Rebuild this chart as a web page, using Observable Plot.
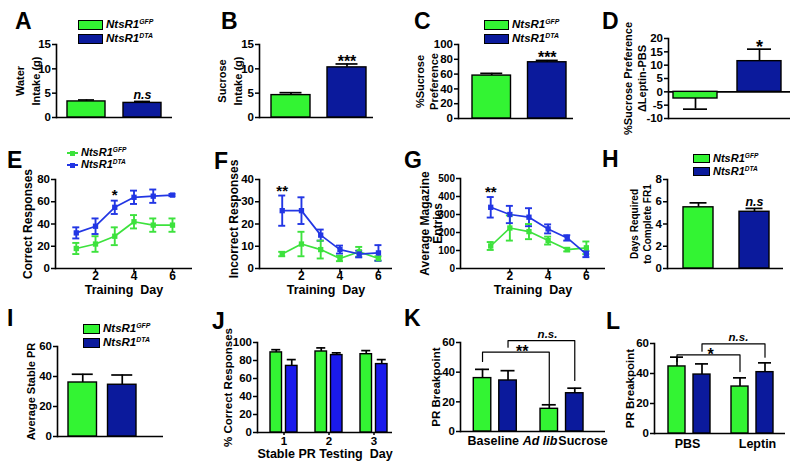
<!DOCTYPE html>
<html>
<head>
<meta charset="utf-8">
<script src="https://cdn.jsdelivr.net/npm/d3@7"></script>
<script src="https://cdn.jsdelivr.net/npm/@observablehq/plot@0.6"></script>
<style>
html,body{margin:0;padding:0;background:#fff;}
#fig{position:relative;width:800px;height:468px;overflow:hidden;background:#fff;font-family:"Liberation Sans",Arial,sans-serif;color:#000;}
#fig svg{position:absolute;max-width:none;}
.letter{position:absolute;font-size:23px;font-weight:bold;line-height:1;}
.leg{position:absolute;display:flex;align-items:center;font-weight:bold;font-style:italic;white-space:nowrap;line-height:1;}
.leg .sw{display:inline-block;box-sizing:border-box;border:1.5px solid #000;margin-right:3px;}
.leg .ln{display:inline-block;position:relative;height:2px;margin-right:3px;}
.leg .ln i{position:absolute;left:50%;top:50%;width:5px;height:5px;margin:-2.5px 0 0 -2.5px;}
.leg .tx{line-height:0.85;}
.leg sup{font-size:0.6em;vertical-align:0.55em;line-height:0;}
</style>
</head>
<body>
<div id="fig"></div>
<script>
// ---------------- data ----------------
const genotypeKeys = ["GFP", "DTA"];
const legendBase = ["NtsR1", "NtsR1"];
const panelLetters = ["A","B","C","D","E","F","G","H","I","J","K","L"];

// A water intake (g)
const waterIntake = [3.3, 3.0];
const waterIntakeSem = [0.3, 0.3];
const waterIntakeSig = ["", "n.s"];
// B sucrose intake (g)
const sucroseIntake = [4.6, 10.3];
const sucroseIntakeSem = [0.5, 0.7];
const sucroseIntakeSig = ["", "***"];
// C % sucrose preference
const sucrosePref = [58, 76];
const sucrosePrefSem = [3, 2.5];
const sucrosePrefSig = ["", "***"];
// D delta leptin-PBS
const leptinDelta = [-2.5, 11.5];
const leptinDeltaSem = [4, 4.5];
const leptinDeltaSig = ["", "*"];
// E-G training days
const trainingDays = [1, 2, 3, 4, 5, 6];
const correctGFP = [18, 22, 29, 42, 39, 39];
const correctGFPSem = [5, 7, 8, 6, 6, 6];
const correctDTA = [32, 38, 55, 64, 65, 66];
const correctDTASem = [5, 7, 6, 6, 6, 1];
const correctSig = ["", "", "*", "", "", ""];
const incorrectGFP = [6.5, 11, 8.5, 4.5, 7.5, 4.5];
const incorrectGFPSem = [1, 5.5, 4, 1.2, 2.2, 1];
const incorrectDTA = [26, 26, 15, 8.5, 6.5, 7];
const incorrectDTASem = [6.8, 6, 2.5, 1.8, 1.5, 3.5];
const incorrectSig = ["**", "", "", "", "", ""];
const magazineGFP = [125, 225, 205, 155, 105, 115];
const magazineGFPSem = [22, 70, 42, 22, 10, 35];
const magazineDTA = [340, 300, 285, 220, 170, 80];
const magazineDTASem = [57, 48, 50, 25, 15, 17];
const magazineSig = ["**", "", "", "", "", ""];
// H days to complete FR1
const fr1Days = [5.5, 5.1];
const fr1DaysSem = [0.4, 0.3];
const fr1Sig = ["", "n.s"];
// I average stable PR
const stablePR = [36, 34.5];
const stablePRSem = [5.5, 6.5];
const stablePRSig = ["", ""];
// J % correct responses by stable PR day
const prDays = ["1", "2", "3"];
const pctCorrectGFP = [89, 90, 87];
const pctCorrectGFPSem = [3, 4, 4];
const pctCorrectDTA = [74, 86, 76];
const pctCorrectDTASem = [7, 2.5, 5];
// K PR breakpoint baseline vs ad lib sucrose
const kConditions = ["Baseline", "Ad lib Sucrose"];
const kGFP = [36, 15.3];
const kGFPSem = [5.9, 2.7];
const kDTA = [34.4, 25.8];
const kDTASem = [6.6, 3.4];
const kBracketGFPcat = ["Baseline", "Baseline", "Ad lib Sucrose", "Ad lib Sucrose"];
const kBracketGFPy = [47.2, 53.5, 53.5, 18.7];
const kBracketDTAcat = ["Baseline", "Baseline", "Ad lib Sucrose", "Ad lib Sucrose"];
const kBracketDTAy = [56.8, 61.3, 61.3, 34.4];
const kSigLabels = ["**", "n.s."];
const kCatLabelParts = [["Baseline"], ["Ad lib", "Sucrose"]];
// L PR breakpoint PBS vs leptin
const lConditions = ["PBS", "Leptin"];
const lGFP = [44.7, 31.3];
const lGFPSem = [6.2, 5.8];
const lDTA = [39.3, 40.9];
const lDTASem = [7.1, 6.2];
const lBracketGFPcat = ["PBS", "PBS", "Leptin", "Leptin"];
const lBracketGFPy = [48, 52.4, 52.4, 41.3];
const lBracketDTAcat = ["PBS", "PBS", "Leptin", "Leptin"];
const lBracketDTAy = [54.9, 59.8, 59.8, 50.9];
const lSigLabels = ["*", "n.s."];

// ---------------- styles ----------------
const COL = {green: "#33F433", navy: "#0B1A9C", blueJ: "#1A1AEB", lgreen: "#3DE23D", lblue: "#2236E4"};
const FONT = '"Liberation Sans", Arial, sans-serif';
const fig = document.getElementById("fig");

function frameOpts(p) {
  return {
    width: p.w, height: p.h,
    marginLeft: p.x0 - p.left, marginRight: p.left + p.w - p.x1,
    marginTop: p.y0 - p.top, marginBottom: p.top + p.h - p.y1,
    style: {background: "transparent", overflow: "visible", fontFamily: FONT, fontSize: "11.5px", fontWeight: "bold", color: "#000"}
  };
}
function place(el, p) {
  el.style.position = "absolute";
  el.style.left = p.left + "px";
  el.style.top = p.top + "px";
  fig.appendChild(el);
}
function yAxisMarks(p) {
  const lines = p.ylabel;
  const sp = p.ylabelSpacing || 15;
  return [
    Plot.axisY({ticks: p.yTicks, tickSize: 4, tickPadding: 1.5, tickFormat: d => String(d), label: null, strokeWidth: 1.5, fontSize: p.tickFont || 11.5}),
    Plot.frame({anchor: "left", strokeWidth: 1.6}),
    ...lines.map((t, i) => Plot.text([t], {frameAnchor: "left", textAnchor: "middle", lineAnchor: "middle",
      dx: p.ylabelDx + (i - (lines.length - 1) / 2) * sp, dy: p.ylabelDy || 0, rotate: -90,
      fontSize: p.ylabelSize || 12, fontWeight: "bold"}))
  ];
}

// ---------- two-bar panels ----------
function twoBarPanel(p) {
  const rows = genotypeKeys.map((g, i) => ({
    g, mean: p.values[i], sem: p.sems[i], sig: p.sig[i],
    end: p.values[i] < 0 ? p.values[i] - p.sems[i] : p.values[i] + p.sems[i]
  }));
  const gap = (p.barR - p.barL) - 2 * p.barW;
  const ci = (p.barW - p.capW) / 2;
  const plot = Plot.plot({
    ...frameOpts(p),
    x: {type: "band", domain: genotypeKeys, range: [p.barL - p.left, p.barR - p.left], paddingInner: gap / (p.barW + gap), paddingOuter: 0, round: false, axis: null},
    y: {domain: p.yDomain},
    color: {domain: genotypeKeys, range: [COL.green, COL.navy]},
    marks: [
      ...(p.baseLines || [p.yDomain[0]]).map(v => Plot.ruleY([v], {stroke: "#000", strokeWidth: 1.6})),
      Plot.ruleX(rows, {x: "g", y1: "mean", y2: "end", stroke: "#000", strokeWidth: 1.7}),
      Plot.tickY(rows, {x: "g", y: "end", stroke: "#000", strokeWidth: 1.7, insetLeft: ci, insetRight: ci}),
      Plot.barY(rows, {x: "g", y: "mean", fill: "g", stroke: "#000", strokeWidth: 1.4}),
      Plot.text(rows, {x: "g", y: "end", text: "sig", dy: p.sigDy, fontSize: p.sigSize, fontWeight: "bold", fontStyle: p.sigItalic ? "italic" : "normal"}),
      ...yAxisMarks(p)
    ]
  });
  place(plot, p);
}

// ---------- line panels ----------
function linePanel(p) {
  const rows = [];
  genotypeKeys.forEach((g, gi) => trainingDays.forEach((d, i) => {
    const m = p.means[gi][i], s = p.sems[gi][i];
    rows.push({g, day: d, mean: m, lo: m - s, hi: m + s, sig: gi === 1 ? p.sig[i] : ""});
  }));
  const plot = Plot.plot({
    ...frameOpts(p),
    x: {domain: p.xDomain},
    y: {domain: p.yDomain},
    color: {domain: genotypeKeys, range: [COL.lgreen, COL.lblue]},
    marks: [
      Plot.ruleY([p.yDomain[0]], {stroke: "#000", strokeWidth: 1.6}),
      Plot.axisX({ticks: [2, 4, 6], tickSize: 4, tickPadding: -1, tickFormat: d => String(d), label: null, strokeWidth: 1.5, fontSize: 12}),
      Plot.line(rows, {x: "day", y: "mean", stroke: "g", strokeWidth: 1.7}),
      Plot.ruleX(rows, {x: "day", y1: "lo", y2: "hi", stroke: "g", strokeWidth: 1.9}),
      Plot.ruleY(rows, {y: "lo", x1: "day", x2: "day", insetLeft: -3.5, insetRight: -3.5, stroke: "g", strokeWidth: 1.9}),
      Plot.ruleY(rows, {y: "hi", x1: "day", x2: "day", insetLeft: -3.5, insetRight: -3.5, stroke: "g", strokeWidth: 1.9}),
      Plot.dot(rows, {x: "day", y: "mean", fill: "g", symbol: "square", r: 3}),
      Plot.text(rows.filter(d => d.sig), {x: "day", y: "hi", text: "sig", dy: p.sigDy, fontSize: 15, fontWeight: "bold"}),
      Plot.text([p.xlabel], {frameAnchor: "bottom", lineAnchor: "middle", dy: p.xlabelDy, fontSize: 12.5, fontWeight: "bold"}),
      ...yAxisMarks(p)
    ]
  });
  place(plot, p);
}

// ---------- grouped bar panels ----------
function groupedPanel(p) {
  const series = [
    {g: "GFP", vals: p.gfp, sems: p.gfpSem, span: p.greenSpan},
    {g: "DTA", vals: p.dta, sems: p.dtaSem, span: p.blueSpan}
  ];
  const bw = (p.range[1] - p.range[0]) / p.cats.length;
  const marks = [Plot.ruleY([p.yDomain[0]], {stroke: "#000", strokeWidth: 1.6})];
  series.forEach(s => {
    const rows = p.cats.map((c, i) => ({c, g: s.g, mean: s.vals[i], end: s.vals[i] + s.sems[i]}));
    const off = (s.span[0] + s.span[1]) / 2;
    const ci = (bw - p.capW) / 2;
    marks.push(
      Plot.ruleX(rows, {x: "c", y1: "mean", y2: "end", dx: off, stroke: "#000", strokeWidth: 1.7}),
      Plot.tickY(rows, {x: "c", y: "end", dx: off, insetLeft: ci, insetRight: ci, stroke: "#000", strokeWidth: 1.7}),
      Plot.barY(rows, {x: "c", y: "mean", fill: "g", stroke: "#000", strokeWidth: 1.4, insetLeft: bw / 2 + s.span[0], insetRight: bw / 2 - s.span[1]})
    );
  });
  (p.brackets || []).forEach(b => {
    const rows = b.cats.map((c, i) => ({c, y: b.ys[i]}));
    marks.push(Plot.line(rows, {x: "c", y: "y", dx: b.dx, stroke: "#000", strokeWidth: 1.2}));
    marks.push(Plot.text([{c: b.labelCat, y: b.labelY}], {x: "c", y: "y", text: () => b.label, dx: b.labelDx, dy: b.labelDy, fontSize: b.labelSize, fontWeight: "bold", fontStyle: b.italic ? "italic" : "normal"}));
  });
  if (p.xAxis) {
    marks.push(Plot.axisX({tickSize: 3, tickPadding: 1, label: null, strokeWidth: 1.5}));
  }
  (p.catLabels || []).forEach(l => {
    marks.push(Plot.text([l.cat], {x: d => d, text: () => l.text, frameAnchor: "bottom", lineAnchor: "middle", dx: l.dx, dy: l.dy, fontSize: 12.5, fontWeight: "bold", fontStyle: l.italic ? "italic" : "normal"}));
  });
  if (p.xlabel) marks.push(Plot.text([p.xlabel], {frameAnchor: "bottom", lineAnchor: "middle", dy: p.xlabelDy, fontSize: 12.5, fontWeight: "bold"}));
  marks.push(...yAxisMarks(p));
  const plot = Plot.plot({
    ...frameOpts(p),
    x: {type: "band", domain: p.cats, range: [p.range[0] - p.left, p.range[1] - p.left], padding: 0, round: false, axis: null},
    y: {domain: p.yDomain},
    color: {domain: genotypeKeys, range: p.colors},
    marks
  });
  place(plot, p);
}

// ---------- HTML letters and legends ----------
function letter(t, x, capTop) {
  const d = document.createElement("div");
  d.className = "letter";
  d.textContent = t;
  d.style.left = (x - 1) + "px";
  d.style.top = (capTop - 3) + "px";
  fig.appendChild(d);
}
function legendText(i, g) {
  const t = document.createElement("span");
  t.className = "tx";
  t.append(legendBase[i]);
  const sup = document.createElement("sup"); sup.textContent = g; t.append(sup);
  return t;
}
function barLegend(x, y, bw, bh, step, fs, colors) {
  genotypeKeys.forEach((g, i) => {
    const d = document.createElement("div");
    d.className = "leg";
    d.style.left = x + "px"; d.style.top = (y + i * step) + "px";
    d.style.height = bh + "px"; d.style.fontSize = fs + "px";
    const sw = document.createElement("span");
    sw.className = "sw"; sw.style.width = bw + "px"; sw.style.height = bh + "px"; sw.style.background = colors[i];
    d.append(sw, legendText(i, g));
    fig.appendChild(d);
  });
}
function lineLegend(x, yc, len, step, fs, colors) {
  genotypeKeys.forEach((g, i) => {
    const d = document.createElement("div");
    d.className = "leg";
    d.style.left = x + "px"; d.style.top = (yc + i * step - 5) + "px";
    d.style.height = "10px"; d.style.fontSize = fs + "px";
    const ln = document.createElement("span");
    ln.className = "ln"; ln.style.width = len + "px"; ln.style.background = colors[i];
    const sq = document.createElement("i"); sq.style.background = colors[i]; ln.append(sq);
    d.append(ln, legendText(i, g));
    fig.appendChild(d);
  });
}

// ---------------- panels ----------------
twoBarPanel({left: 0, top: 0, w: 200, h: 140, x0: 56, x1: 172, y0: 44, y1: 117,
  yDomain: [0, 15], yTicks: [0, 5, 10, 15], values: waterIntake, sems: waterIntakeSem, sig: waterIntakeSig,
  barL: 67, barR: 161, barW: 38, capW: 16, sigDy: -6, sigSize: 12.5, sigItalic: true,
  ylabel: ["Water", "Intake (g)"], ylabelDx: -28, ylabelSpacing: 16, ylabelSize: 11});
twoBarPanel({left: 200, top: 0, w: 200, h: 140, x0: 259, x1: 373, y0: 44, y1: 117,
  yDomain: [0, 15], yTicks: [0, 5, 10, 15], values: sucroseIntake, sems: sucroseIntakeSem, sig: sucroseIntakeSig,
  barL: 271, barR: 366, barW: 39, capW: 22, sigDy: -2, sigSize: 16,
  ylabel: ["Sucrose", "Intake (g)"], ylabelDx: -29, ylabelSpacing: 16, ylabelSize: 11});
twoBarPanel({left: 400, top: 0, w: 200, h: 140, x0: 458, x1: 573, y0: 44, y1: 118,
  yDomain: [0, 100], yTicks: [0, 20, 40, 60, 80, 100], values: sucrosePref, sems: sucrosePrefSem, sig: sucrosePrefSig,
  barL: 472, barR: 566, barW: 38.5, capW: 22, sigDy: -2.5, sigSize: 16,
  ylabel: ["%Sucrose", "Preference"], ylabelDx: -31.5, ylabelSpacing: 14, ylabelSize: 11});
twoBarPanel({left: 600, top: 0, w: 200, h: 140, x0: 668, x1: 790, y0: 38, y1: 118,
  yDomain: [-10, 20], yTicks: [-10, -5, 0, 5, 10, 15, 20], values: leptinDelta, sems: leptinDeltaSem, sig: leptinDeltaSig,
  barL: 673, barR: 781, barW: 44, capW: 24, sigDy: -2, sigSize: 18, baseLines: [-10, 0],
  ylabel: ["%Sucrose Preference", "ΔLeptin-PBS"], ylabelDx: -33, ylabelSpacing: 14, ylabelSize: 11});

linePanel({left: 0, top: 140, w: 200, h: 160, x0: 55, x1: 192, y0: 179, y1: 268,
  xDomain: [-0.08, 7.04], yDomain: [0, 80], yTicks: [0, 20, 40, 60, 80],
  means: [correctGFP, correctDTA], sems: [correctGFPSem, correctDTASem], sig: correctSig, sigDy: -5,
  xlabel: "Training  Day", xlabelDy: 21, ylabel: ["Correct Responses"], ylabelDx: -27});
linePanel({left: 200, top: 140, w: 200, h: 160, x0: 259, x1: 392, y0: 179, y1: 268,
  xDomain: [-0.18, 6.73], yDomain: [0, 40], yTicks: [0, 10, 20, 30, 40],
  means: [incorrectGFP, incorrectDTA], sems: [incorrectGFPSem, incorrectDTASem], sig: incorrectSig, sigDy: -4,
  xlabel: "Training  Day", xlabelDy: 21, ylabel: ["Incorrect Responses"], ylabelDx: -25, ylabelDy: -5});
linePanel({left: 400, top: 140, w: 210, h: 160, x0: 460, x1: 605, y0: 178, y1: 268,
  xDomain: [-0.58, 7.0], yDomain: [0, 500], yTicks: [0, 100, 200, 300, 400, 500],
  means: [magazineGFP, magazineDTA], sems: [magazineGFPSem, magazineDTASem], sig: magazineSig, sigDy: -5,
  xlabel: "Training  Day", xlabelDy: 21, ylabel: ["Average Magazine", "Entries"], ylabelDx: -29, ylabelSpacing: 13, tickFont: 10});
twoBarPanel({left: 600, top: 140, w: 200, h: 160, x0: 667, x1: 783, y0: 179, y1: 268,
  yDomain: [0, 8], yTicks: [0, 2, 4, 6, 8], values: fr1Days, sems: fr1DaysSem, sig: fr1Sig,
  barL: 683, barR: 769, barW: 30, capW: 17, sigDy: -6, sigSize: 12.5, sigItalic: true,
  ylabel: ["Days Required", "to Complete FR1"], ylabelDx: -26, ylabelSpacing: 12.5, ylabelSize: 10});

twoBarPanel({left: 0, top: 300, w: 200, h: 168, x0: 57, x1: 163, y0: 346, y1: 436,
  yDomain: [0, 60], yTicks: [0, 20, 40, 60], values: stablePR, sems: stablePRSem, sig: stablePRSig,
  barL: 68, barR: 136, barW: 28.5, capW: 21, sigDy: -4, sigSize: 14,
  ylabel: ["Average Stable PR"], ylabelDx: -26, ylabelSize: 11});
groupedPanel({left: 200, top: 300, w: 200, h: 168, x0: 257, x1: 392, y0: 342, y1: 432,
  yDomain: [0, 100], yTicks: [0, 20, 40, 60, 80, 100], cats: prDays, range: [261, 396],
  gfp: pctCorrectGFP, gfpSem: pctCorrectGFPSem, dta: pctCorrectDTA, dtaSem: pctCorrectDTASem,
  greenSpan: [-13.5, -2], blueSpan: [2, 13.5], capW: 9, colors: [COL.green, COL.blueJ], xAxis: true,
  xlabel: "Stable PR Testing  Day", xlabelDy: 21, ylabel: ["% Correct Responses"], ylabelDx: -29, ylabelSize: 11.5});
groupedPanel({left: 400, top: 300, w: 210, h: 168, x0: 460, x1: 605, y0: 342, y1: 431,
  yDomain: [0, 60], yTicks: [0, 20, 40, 60], cats: kConditions, range: [461.4, 594.9],
  gfp: kGFP, gfpSem: kGFPSem, dta: kDTA, dtaSem: kDTASem,
  greenSpan: [-21.5, -4], blueSpan: [4, 21.5], capW: 14, colors: [COL.green, COL.navy],
  brackets: [
    {cats: kBracketGFPcat, ys: kBracketGFPy, dx: -12.75, label: kSigLabels[0], labelCat: "Baseline", labelY: 53.5, labelDx: 27, labelDy: 0, labelSize: 16},
    {cats: kBracketDTAcat, ys: kBracketDTAy, dx: 12.75, label: kSigLabels[1], labelCat: "Ad lib Sucrose", labelY: 61.3, labelDx: -14.5, labelDy: -6, labelSize: 11.5, italic: true}
  ],
  catLabels: [
    {cat: kConditions[0], text: kCatLabelParts[0][0], dx: -2, dy: 9},
    {cat: kConditions[1], text: kCatLabelParts[1][0], dx: -22, dy: 9, italic: true},
    {cat: kConditions[1], text: kCatLabelParts[1][1], dx: 21, dy: 9}
  ],
  ylabel: ["PR Breakpoint"], ylabelDx: -24, ylabelSize: 11.5});
groupedPanel({left: 600, top: 300, w: 200, h: 168, x0: 654, x1: 785, y0: 343, y1: 433,
  yDomain: [0, 60], yTicks: [0, 20, 40, 60], cats: lConditions, range: [657.5, 783.5],
  gfp: lGFP, gfpSem: lGFPSem, dta: lDTA, dtaSem: lDTASem,
  greenSpan: [-21, -4], blueSpan: [4, 21], capW: 13, colors: [COL.green, COL.navy],
  brackets: [
    {cats: lBracketGFPcat, ys: lBracketGFPy, dx: -12.5, label: lSigLabels[0], labelCat: "PBS", labelY: 52.4, labelDx: 21, labelDy: 0, labelSize: 16},
    {cats: lBracketDTAcat, ys: lBracketDTAy, dx: 12.5, label: lSigLabels[1], labelCat: "Leptin", labelY: 59.8, labelDx: -14, labelDy: -6, labelSize: 11.5, italic: true}
  ],
  catLabels: [
    {cat: lConditions[0], text: lConditions[0], dx: -2, dy: 10},
    {cat: lConditions[1], text: lConditions[1], dx: 5, dy: 10}
  ],
  ylabel: ["PR Breakpoint"], ylabelDx: -24, ylabelSize: 11.5});

// letters
const letterPos = [[16,13],[222,13],[415,13],[603,13],[8,152],[215,153],[405,152],[603,151],[8,310],[213,313],[405,310],[607,313]];
panelLetters.forEach((t, i) => letter(t, letterPos[i][0], letterPos[i][1]));
// legends
barLegend(78, 20, 25, 10, 13.5, 11.5, [COL.green, COL.navy]);
barLegend(484, 20, 25, 10, 13.5, 11.5, [COL.green, COL.navy]);
barLegend(693, 154, 17, 9, 13, 11, [COL.green, COL.navy]);
barLegend(83, 324, 17, 10, 13.5, 11.5, [COL.green, COL.navy]);
lineLegend(67, 153, 11, 12, 11, [COL.lgreen, COL.lblue]);
</script>
</body>
</html>
